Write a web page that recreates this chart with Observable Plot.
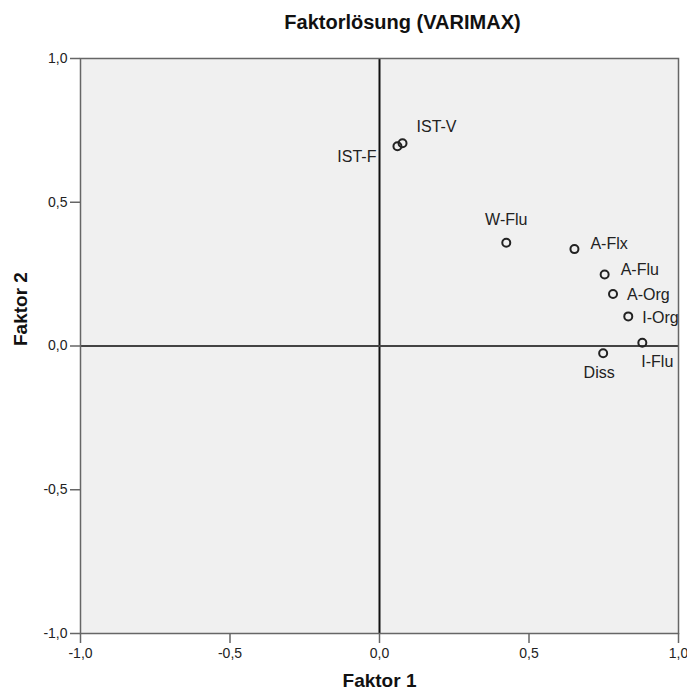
<!DOCTYPE html>
<html><head><meta charset="utf-8">
<script src="https://cdn.jsdelivr.net/npm/d3@7"></script>
<script src="https://cdn.jsdelivr.net/npm/@observablehq/plot@0.6"></script>
<style>
body{margin:0;background:#fff;font-family:"Liberation Sans",Arial,sans-serif;}
#wrap{position:relative;width:687px;height:690px;overflow:hidden;}
#title{position:absolute;left:0;top:0;width:805px;height:40px;text-align:center;font-weight:bold;font-size:20px;line-height:20px;padding-top:12px;box-sizing:border-box;color:#111;}
#chart{position:absolute;left:0;top:40px;}
</style></head><body>
<div id="wrap"><div id="title">Faktorlösung (VARIMAX)</div><div id="chart"></div></div>
<script>
const variables = ["IST-V", "IST-F", "W-Flu", "A-Flx", "A-Flu", "A-Org", "I-Org", "I-Flu", "Diss"];
const faktor1 = [0.077, 0.060, 0.424, 0.652, 0.753, 0.781, 0.832, 0.879, 0.748];
const faktor2 = [0.705, 0.695, 0.359, 0.337, 0.249, 0.181, 0.103, 0.011, -0.025];
const labelPlacement = ["upper-right", "left", "top", "right-up", "right-up", "right", "right", "below-right", "bottom"];
const tickValues = [-1, -0.5, 0, 0.5, 1];
const tickLabels = ["-1,0", "-0,5", "0,0", "0,5", "1,0"];
const xLabel = "Faktor 1";
const yLabel = "Faktor 2";

const data = variables.map((name, i) => ({name, f1: faktor1[i], f2: faktor2[i], pos: labelPlacement[i]}));
const fmt = v => tickLabels[tickValues.indexOf(v)];

const placements = {
  "upper-right": {textAnchor: "start", dx: 14, dy: -16},
  "left": {textAnchor: "end", dx: -21, dy: 11},
  "top": {textAnchor: "middle", dx: 0, dy: -23},
  "right-up": {textAnchor: "start", dx: 16, dy: -5},
  "right": {textAnchor: "start", dx: 14, dy: 1},
  "below-right": {textAnchor: "start", dx: -1, dy: 19},
  "bottom": {textAnchor: "middle", dx: -4, dy: 20}
};

const labelMarks = Object.entries(placements).map(([key, opt]) =>
  Plot.text(data.filter(d => d.pos === key), {x: "f1", y: "f2", text: "name", fontSize: 16, fill: "#222", ...opt})
);

const chart = Plot.plot({
  width: 687,
  height: 650,
  marginTop: 18,
  marginLeft: 80,
  marginRight: 9,
  marginBottom: 57,
  style: {fontFamily: "'Liberation Sans', Arial, sans-serif", background: "#fff", overflow: "visible"},
  x: {domain: [-1, 1], ticks: tickValues, tickFormat: fmt},
  y: {domain: [-1, 1], ticks: tickValues, tickFormat: fmt},
  marks: [
    Plot.frame({fill: "#f0f0f0", stroke: null}),
    Plot.ruleX([0], {stroke: "#111", strokeWidth: 2}),
    Plot.ruleY([0], {stroke: "#444", strokeWidth: 2}),
    Plot.frame({stroke: "#666", strokeWidth: 1.5}),
    Plot.axisX({ticks: tickValues, tickFormat: fmt, tickSize: 10, tickPadding: 5, fontSize: 14, stroke: "#666", strokeWidth: 1.5, fill: "#222", label: null}),
    Plot.axisY({ticks: tickValues, tickFormat: fmt, tickSize: 10, tickPadding: 3, fontSize: 14, stroke: "#666", strokeWidth: 1.5, fill: "#222", label: null}),
    Plot.text([xLabel], {frameAnchor: "bottom", dy: 53, text: d => d, fontSize: 19, fontWeight: "bold", fill: "#111", lineAnchor: "bottom"}),
    Plot.text([yLabel], {frameAnchor: "left", dx: -60, text: d => d, fontSize: 19, fontWeight: "bold", fill: "#111", rotate: -90}),
    Plot.dot(data, {x: "f1", y: "f2", r: 4, stroke: "#222", strokeWidth: 2, fill: "none"}),
    ...labelMarks
  ]
});
document.getElementById("chart").appendChild(chart);
</script>
</body></html>
